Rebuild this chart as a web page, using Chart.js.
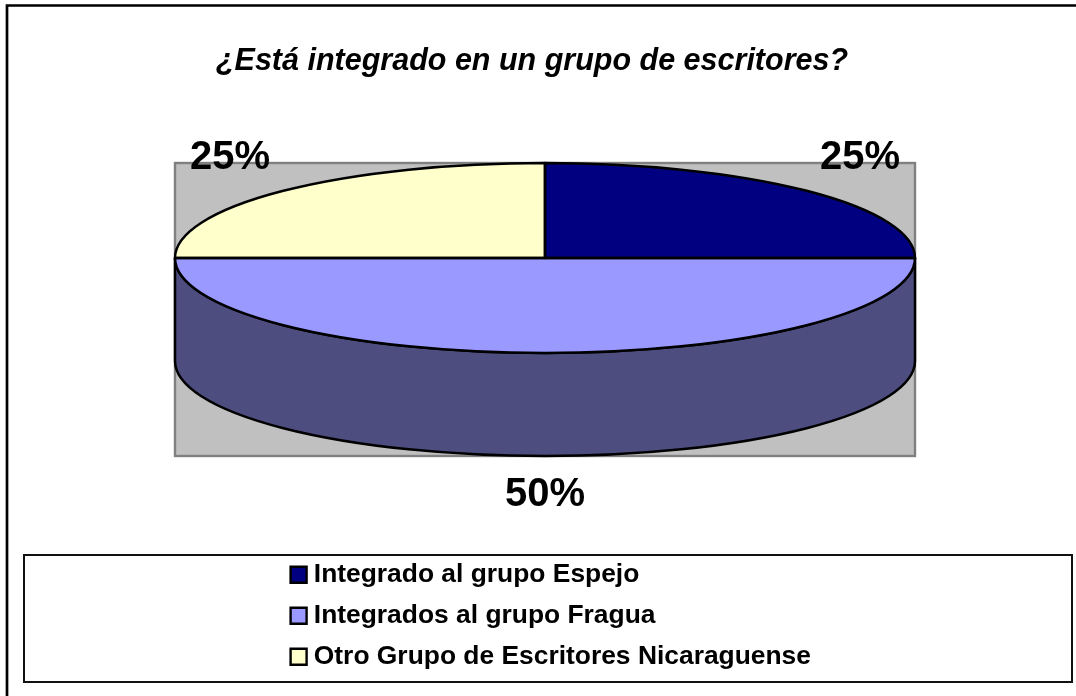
<!DOCTYPE html>
<html><head><meta charset="utf-8">
<style>html,body{margin:0;padding:0;background:#fff}canvas{display:block}</style>
<script src="https://cdn.jsdelivr.net/npm/chart.js@4/dist/chart.umd.min.js"></script>
</head><body><canvas id="c" width="1076" height="696"></canvas>
<script>
const chartTitle = '¿Está integrado en un grupo de escritores?';
const categories = ['Integrado al grupo Espejo', 'Integrados al grupo Fragua', 'Otro Grupo de Escritores Nicaraguense'];
const values = [25, 50, 25];
const sliceColors = ['#000080', '#9999ff', '#ffffcc'];
const wallColors = ['#00004d', '#4d4d80', '#80805f'];

const FONT = '"Liberation Sans", Arial, sans-serif';
const view = {cx: 545, cy: 258, rx: 370, ry: 95, depth: 103};

function toView(ctx, el) {
  const R = el.outerRadius;
  ctx.translate(view.cx, view.cy);
  ctx.scale(view.rx / R, view.ry / R);
  ctx.translate(-el.x, -el.y);
}
function arcPath(ctx, el) {
  ctx.save(); toView(ctx, el);
  ctx.beginPath();
  ctx.moveTo(el.x, el.y);
  ctx.arc(el.x, el.y, el.outerRadius, el.startAngle, el.endAngle);
  ctx.closePath();
  ctx.restore();
}
const pie3d = {
  id: 'pie3d',
  afterLayout(chart) {
    const l = chart.legend;
    const w = l.right - l.left, h = l.bottom - l.top;
    l.left = 282; l.right = l.left + w; l.top = 547; l.bottom = l.top + h;
    const t = chart.titleBlock;
    t.left -= 6; t.right -= 6;
  },
  beforeDraw(chart) {
    const c = chart.ctx;
    c.save();
    c.fillStyle = '#fff'; c.fillRect(0, 0, 1076, 696);
    c.strokeStyle = '#000'; c.lineWidth = 2.7;
    c.beginPath(); c.moveTo(7, 696); c.lineTo(7, 5.5); c.lineTo(1076, 5.5); c.stroke();
    c.strokeStyle = '#111'; c.lineWidth = 2;
    c.strokeRect(24, 555, 1048, 127);
    c.restore();
  },
  beforeDatasetsDraw(chart) {
    const c = chart.ctx, arcs = chart.getDatasetMeta(0).data;
    c.save();
    c.fillStyle = '#c0c0c0'; c.strokeStyle = '#808080'; c.lineWidth = 2.4;
    c.fillRect(view.cx - view.rx, view.cy - view.ry, 2 * view.rx, view.ry + view.depth + 95);
    c.strokeRect(view.cx - view.rx, view.cy - view.ry, 2 * view.rx, view.ry + view.depth + 95);
    arcs.forEach((el, i) => {
      const a0 = Math.max(el.startAngle, 0), a1 = Math.min(el.endAngle, Math.PI);
      if (a1 <= a0) return;
      const p = (a, dy) => [view.cx + view.rx * Math.cos(a), view.cy + view.ry * Math.sin(a) + dy];
      c.beginPath();
      c.ellipse(view.cx, view.cy, view.rx, view.ry, 0, a0, a1);
      c.lineTo(...p(a1, view.depth));
      c.ellipse(view.cx, view.cy + view.depth, view.rx, view.ry, 0, a1, a0, true);
      c.closePath();
      c.fillStyle = wallColors[i]; c.fill();
      c.strokeStyle = '#000'; c.lineWidth = 2.5; c.stroke();
    });
    c.restore();
    c.save();
    toView(c, arcs[0]);
  },
  afterDatasetsDraw(chart) {
    const c = chart.ctx, arcs = chart.getDatasetMeta(0).data;
    c.restore();
    c.save();
    c.strokeStyle = '#000'; c.lineWidth = 2.5; c.lineJoin = 'round';
    arcs.forEach(el => { arcPath(c, el); c.stroke(); });
    const total = values.reduce((a, b) => a + b, 0);
    c.fillStyle = '#000'; c.textAlign = 'center'; c.textBaseline = 'middle';
    c.font = 'bold 40px ' + FONT;
    arcs.forEach((el, i) => {
      const mid = (el.startAngle + el.endAngle) / 2;
      const x = view.cx + view.rx * Math.cos(mid) * 1.204;
      const s = Math.sin(mid);
      const y = view.cy + view.ry * s * 1.53 + (s > 0 ? 89 : 0) + 3;
      c.fillText(Math.round(values[i] / total * 100) + '%', x, y);
    });
    c.restore();
  }
};
new Chart(document.getElementById('c'), {
  type: 'pie',
  data: {labels: categories, datasets: [{data: values, backgroundColor: sliceColors, borderWidth: 0, clip: false}]},
  options: {
    responsive: false, animation: false,
    plugins: {
      tooltip: {enabled: false},
      title: {display: true, text: chartTitle, color: '#000',
        font: {family: FONT, size: 30.5, weight: 'bold', style: 'italic'},
        padding: {top: 43, bottom: 10}},
      legend: {display: true, position: 'left', align: 'start', maxWidth: 700, fullSize: false,
        labels: {color: '#000', font: {family: FONT, size: 26.4, weight: 'bold'},
          usePointStyle: true, pointStyle: 'rect', boxWidth: 4, boxHeight: 16, padding: 14.6,
          generateLabels(chart) {
            return categories.map((t, i) => ({text: t, fillStyle: sliceColors[i], strokeStyle: '#000', lineWidth: 2.4, pointStyle: 'rect', hidden: false, index: i}));
          }}}
    }
  },
  plugins: [pie3d]
});
</script></body></html>
